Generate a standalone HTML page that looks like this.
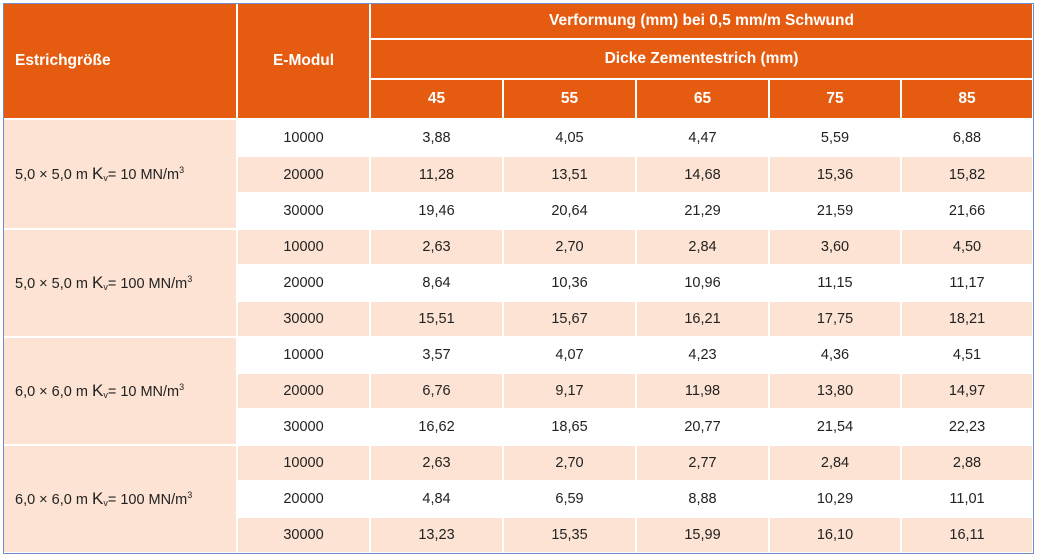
<!DOCTYPE html><html><head><style>
body{margin:0;width:1037px;height:557px;background:#fff;position:relative;overflow:hidden;font-family:"Liberation Sans",sans-serif}
.c{position:absolute;box-sizing:border-box;display:flex;align-items:center;justify-content:center;font-size:14.5px;color:#222;border-right:2px solid #fff;border-bottom:2px solid #fff}
.h{background:#e55b0f;color:#fff;font-weight:bold;font-size:15.5px}
.l{background:#fce3d3}
.w{background:#fff}
.f{justify-content:flex-start;padding-left:12px}
sub{font-size:9px;vertical-align:-2px}
sup{font-size:9px;vertical-align:6px}
</style></head><body>
<div style="position:absolute;left:3px;top:3px;width:1031px;height:551px;border:1px solid #6f8fd0;box-sizing:border-box;z-index:5;pointer-events:none"></div>
<div id="t"></div>
<script>
var X=[3,238,371,504,637,770,902,1034];
var Y=[120,157,194,230,266,302,338,374,410,446,482,518,554];
var h='';
function cell(x,y,w,hh,cls,txt){h+='<div class="c '+cls+'" style="left:'+x+'px;top:'+y+'px;width:'+w+'px;height:'+hh+'px"><span>'+txt+'</span></div>';}
cell(3,3,235,117,'h f','Estrichgröße');
cell(238,3,133,117,'h','E-Modul');
cell(371,3,663,37,'h','Verformung (mm) bei 0,5 mm/m Schwund');
cell(371,40,663,40,'h','Dicke Zementestrich (mm)');
var th=['45','55','65','75','85'];
for(var i=0;i<5;i++)cell(X[i+2],80,X[i+3]-X[i+2],40,'h',th[i]);
var K='<span style="font-size:17px">K</span><sub>v</sub>';
var g=['5,0 × 5,0 m '+K+'= 10 MN/m<sup>3</sup>','5,0 × 5,0 m '+K+'= 100 MN/m<sup>3</sup>','6,0 × 6,0 m '+K+'= 10 MN/m<sup>3</sup>','6,0 × 6,0 m '+K+'= 100 MN/m<sup>3</sup>'];
var d=[['3,88','4,05','4,47','5,59','6,88'],['11,28','13,51','14,68','15,36','15,82'],['19,46','20,64','21,29','21,59','21,66'],
['2,63','2,70','2,84','3,60','4,50'],['8,64','10,36','10,96','11,15','11,17'],['15,51','15,67','16,21','17,75','18,21'],
['3,57','4,07','4,23','4,36','4,51'],['6,76','9,17','11,98','13,80','14,97'],['16,62','18,65','20,77','21,54','22,23'],
['2,63','2,70','2,77','2,84','2,88'],['4,84','6,59','8,88','10,29','11,01'],['13,23','15,35','15,99','16,10','16,11']];
var e=['10000','20000','30000'];
for(var b=0;b<4;b++)cell(3,Y[b*3],235,Y[b*3+3]-Y[b*3],'l f',g[b]);
for(var r=0;r<12;r++){var cl=r%2?'l':'w';var hh=Y[r+1]-Y[r];
cell(238,Y[r],133,hh,cl,e[r%3]);
for(var i=0;i<5;i++)cell(X[i+2],Y[r],X[i+3]-X[i+2],hh,cl,d[r][i]);}
document.getElementById('t').innerHTML=h;
</script>
</body></html>
